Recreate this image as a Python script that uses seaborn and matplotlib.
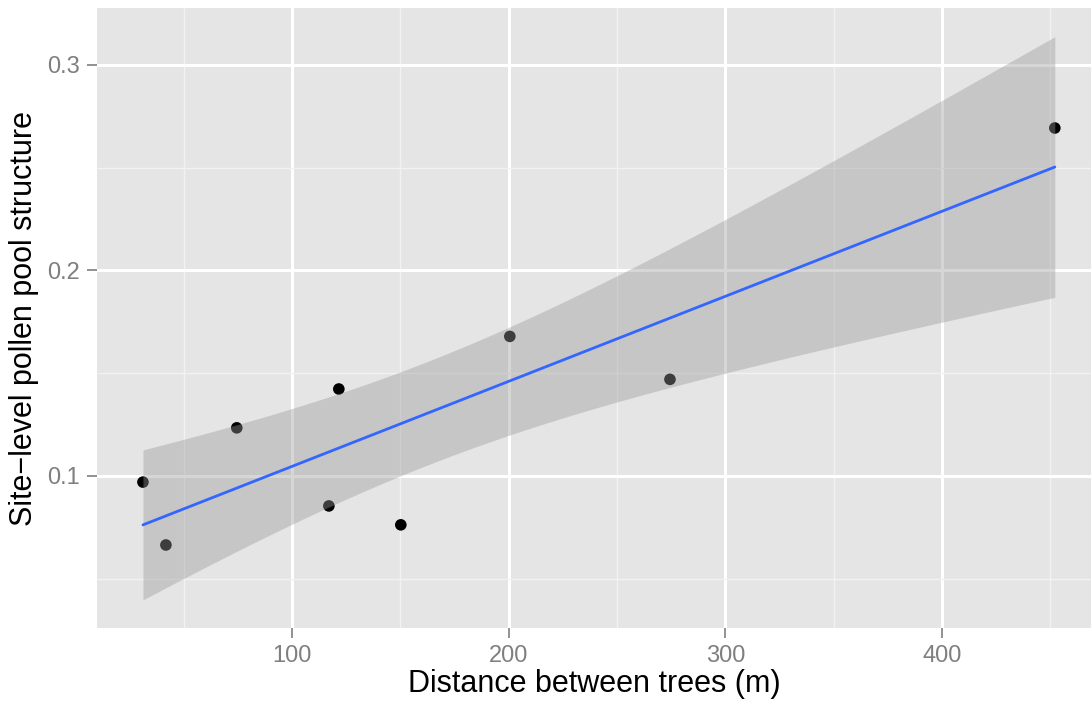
import numpy as np
import pandas as pd
import matplotlib
matplotlib.use("Agg")
import matplotlib.pyplot as plt
import seaborn as sns

# Pairwise tree distance vs. site-level pollen pool structure
distance_m = [31.2, 41.8, 74.5, 117.0, 121.6, 150.2, 200.5, 274.4, 452.0]
pollen_structure = [0.097, 0.0664, 0.1234, 0.0854, 0.1423, 0.0762, 0.1679, 0.147, 0.2693]

x_ticks = [100, 200, 300, 400]
y_ticks = [0.1, 0.2, 0.3]
y_tick_labels = ["0.1", "0.2", "0.3"]

df = pd.DataFrame({"distance": distance_m, "structure": pollen_structure})

sns.set_theme(style="darkgrid")
plt.rcParams["font.family"] = ["Liberation Sans", "DejaVu Sans"]

fig = plt.figure(figsize=(10.91, 7.04), dpi=100)
ax = fig.add_axes([97 / 1091, 1 - 628 / 704, 1 - 97 / 1091, 620 / 704])
ax.set_facecolor("#E5E5E5")

# Ordinary least squares fit with a 95% t-based confidence band
x = df["distance"].to_numpy()
y = df["structure"].to_numpy()
n = len(x)
slope, intercept = np.polyfit(x, y, 1)
resid = y - (intercept + slope * x)
s = np.sqrt(np.sum(resid ** 2) / (n - 2))
sxx = np.sum((x - x.mean()) ** 2)
grid = np.linspace(x.min(), x.max(), 80)
fit = intercept + slope * grid
t_crit = 2.3646  # t(0.975, df=7)
se = s * np.sqrt(1 / n + (grid - x.mean()) ** 2 / sxx)
fit_df = pd.DataFrame({"distance": grid, "fit": fit})

sns.scatterplot(data=df, x="distance", y="structure", ax=ax, color="black",
                s=70, edgecolor="none", zorder=3)
ax.fill_between(grid, fit - t_crit * se, fit + t_crit * se, color="#999999",
                alpha=0.4, linewidth=0, zorder=4)
sns.lineplot(data=fit_df, x="distance", y="fit", ax=ax, color="#3366FF",
             linewidth=2.0, zorder=5)

ax.set_xlim(10.0, 468.7)
ax.set_ylim(0.026, 0.3277)

ax.set_xticks(x_ticks)
ax.set_xticklabels([str(v) for v in x_ticks])
ax.set_yticks(y_ticks)
ax.set_yticklabels(y_tick_labels)
ax.set_xticks([50, 150, 250, 350, 450], minor=True)
ax.set_yticks([0.05, 0.15, 0.25], minor=True)

ax.grid(which="major", color="white", linewidth=2.2)
ax.grid(which="minor", color="#F2F2F2", linewidth=1.0)
ax.set_axisbelow(True)
for sp in ax.spines.values():
    sp.set_visible(False)

ax.tick_params(axis="both", which="major", length=7, width=1.2, color="#7F7F7F",
               labelcolor="#7F7F7F", labelsize=17, pad=5, direction="out")
ax.tick_params(axis="both", which="minor", length=0)
ax.tick_params(axis="x", bottom=True)
ax.tick_params(axis="y", left=True)

ax.set_xlabel("Distance between trees (m)", fontsize=22, color="black", labelpad=2)
ax.set_ylabel("Site\u2212level pollen pool structure", fontsize=22, color="black", labelpad=6)

fig.patch.set_facecolor("white")
fig.savefig("out.png", dpi=100)
